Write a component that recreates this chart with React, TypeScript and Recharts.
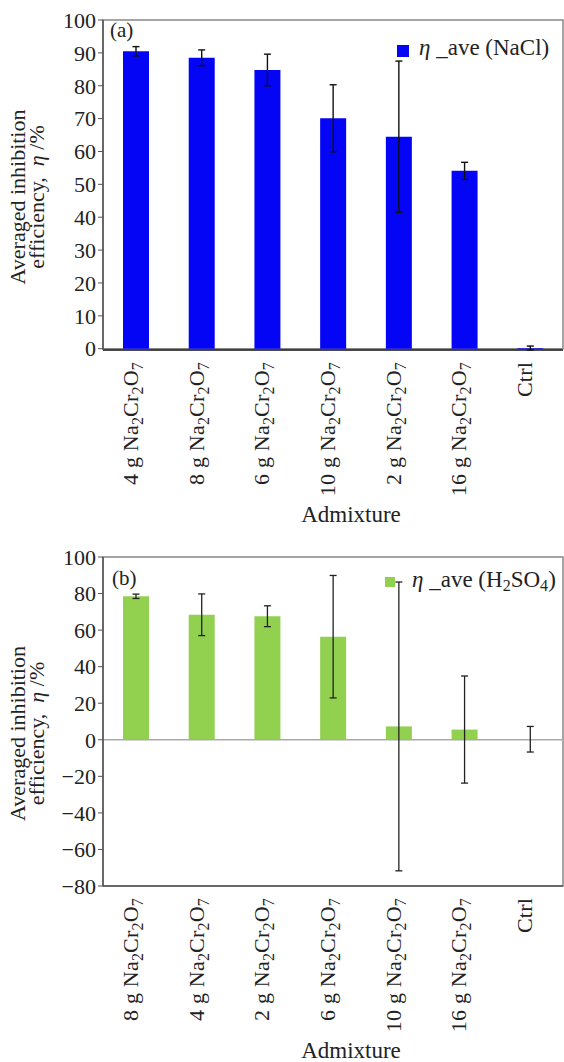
import React from 'react';
import { BarChart, Bar, XAxis, YAxis, ErrorBar, ReferenceLine, ReferenceArea, Legend } from 'recharts';

// (a) NaCl solution
const NACL_ADMIX = ['4 g Na2Cr2O7', '8 g Na2Cr2O7', '6 g Na2Cr2O7', '10 g Na2Cr2O7', '2 g Na2Cr2O7', '16 g Na2Cr2O7', 'Ctrl'];
const NACL_ETA = [90.5, 88.5, 84.8, 70.1, 64.5, 54.1, 0.2];
const NACL_ERR = [1.4, 2.4, 4.8, 10.2, 23, 2.6, 0.6];
const NACL_TICKS = [0, 10, 20, 30, 40, 50, 60, 70, 80, 90, 100];

// (b) H2SO4 solution
const H2SO4_ADMIX = ['8 g Na2Cr2O7', '4 g Na2Cr2O7', '2 g Na2Cr2O7', '6 g Na2Cr2O7', '10 g Na2Cr2O7', '16 g Na2Cr2O7', 'Ctrl'];
const H2SO4_ETA = [78.5, 68.4, 67.6, 56.4, 7.3, 5.6, 0.3];
const H2SO4_ERR = [1.2, 11.4, 5.7, 33.5, 79, 29.3, 7];
const H2SO4_TICKS = [-80, -60, -40, -20, 0, 20, 40, 60, 80, 100];

const FONT = 'Liberation Serif';
const W = 564;

const naclRows = NACL_ADMIX.map((admix, i) => ({ admix, eta: NACL_ETA[i], err: NACL_ERR[i] }));
const h2so4Rows = H2SO4_ADMIX.map((admix, i) => ({ admix, eta: H2SO4_ETA[i], err: H2SO4_ERR[i] }));

// digits right after a letter are subscripts (Na2Cr2O7, H2SO4)
const splitChem = (s: string) => {
  const out: { t: string; sub: boolean }[] = [];
  for (let i = 0; i < s.length; i++) {
    const sub = /\d/.test(s[i]) && i > 0 && /[A-Za-z]/.test(s[i - 1]);
    const last = out[out.length - 1];
    if (last && last.sub === sub) last.t += s[i];
    else out.push({ t: s[i], sub });
  }
  return out;
};

const svgChem = (s: string, fs: number, subFs: number, shift: number) => {
  let cur = 0;
  return splitChem(s).map((p, i) => {
    const target = p.sub ? shift : 0;
    const dy = target - cur;
    cur = target;
    return <tspan key={i} dy={dy} fontSize={p.sub ? subFs : fs}>{p.t}</tspan>;
  });
};

const htmlChem = (s: string) =>
  splitChem(s).map((p, i) => p.sub
    ? <sub key={i} style={{ fontSize: '0.7em', verticalAlign: '-0.25em' }}>{p.t}</sub>
    : <span key={i}>{p.t}</span>);

const fmt = (v: number) => (v < 0 ? `\u2212${Math.abs(v)}` : String(v));

const AdmixTick = (props: any) => {
  const { x, y, payload } = props;
  return (
    <text transform={`translate(${x + 2},${y + 10}) rotate(-90)`} textAnchor="end"
      fontFamily={FONT} fill="#222" letterSpacing={0.2}>
      {svgChem(payload.value, 22, 16, 5)}
    </text>
  );
};

const YTitle = (props: any) => {
  const vb = props.viewBox || { y: 20, height: 330 };
  const cy = vb.y + vb.height / 2 + 12;
  return (
    <g fontFamily={FONT} fontSize={22} fill="#222">
      <text transform={`translate(25,${cy}) rotate(-90)`} textAnchor="middle">Averaged inhibition</text>
      <text transform={`translate(44,${cy}) rotate(-90)`} textAnchor="middle" style={{ whiteSpace: 'pre' }}>
        {'efficiency,  '}<tspan fontStyle="italic">η</tspan>{' /%'}
      </text>
    </g>
  );
};

const XTitle = (props: any) => {
  const vb = props.viewBox || { x: 103, y: 350, width: 460 };
  return (
    <text x={vb.x + vb.width / 2 + 18} y={vb.y + 172} textAnchor="middle"
      fontFamily={FONT} fontSize={23} fill="#222">Admixture</text>
  );
};

const makeLegend = (tag: string, series: string, tagPos: number[], box: number[], textPos: number[]) =>
  (props: any) => {
    const color = props.payload && props.payload[0] ? props.payload[0].color : '#000';
    return (
      <div style={{ position: 'relative', fontFamily: FONT, color: '#222', lineHeight: 1 }}>
        <div style={{ position: 'absolute', left: tagPos[0], top: tagPos[1], fontSize: 21, whiteSpace: 'nowrap' }}>{tag}</div>
        <div style={{ position: 'absolute', left: box[0], top: box[1], width: box[2], height: box[2], background: color }} />
        <div style={{ position: 'absolute', left: textPos[0], top: textPos[1], fontSize: 23, whiteSpace: 'nowrap' }}>
          <i>η</i> _ave ({htmlChem(series)})
        </div>
      </div>
    );
  };

const yTick = { fontSize: 22, fill: '#222', fontFamily: FONT };

export default function App() {
  return (
    <div style={{ position: 'absolute', left: 0, top: 0, width: W, height: 1062, background: '#fff', overflow: 'hidden', fontFamily: FONT }}>
      <div style={{ position: 'absolute', left: 0, top: 0 }}>
        <BarChart width={W} height={540} data={naclRows} margin={{ top: 20, right: 1, bottom: 0, left: 0 }} barSize={26}>
          <ReferenceArea y1={0} y2={100} fill="none" stroke="#888" strokeWidth={1.5} />
          <XAxis dataKey="admix" height={190} tickLine={false} tickSize={0} interval={0}
            axisLine={{ stroke: '#111', strokeWidth: 1.5 }} tick={<AdmixTick />} label={{ content: XTitle }} />
          <YAxis width={103} domain={[0, 100]} ticks={NACL_TICKS} tickSize={5} tickMargin={2}
            axisLine={{ stroke: '#555', strokeWidth: 1.5 }} tickLine={{ stroke: '#555' }}
            tick={yTick} tickFormatter={fmt} label={{ content: YTitle }} />
          <Legend content={makeLegend('(a)', 'NaCl', [110, 20], [397, 45, 12], [419, 36])}
            wrapperStyle={{ position: 'absolute', left: 0, top: 0, width: 0, height: 0 }} />
          <Bar dataKey="eta" name="η _ave (NaCl)" fill="#0505f5" isAnimationActive={false}>
            <ErrorBar dataKey="err" width={3.5} stroke="#111" strokeWidth={1.4} direction="y" />
          </Bar>
        </BarChart>
      </div>
      <div style={{ position: 'absolute', left: 0, top: 540 }}>
        <BarChart width={W} height={522} data={h2so4Rows} margin={{ top: 17, right: 1, bottom: 0, left: 0 }} barSize={26}>
          <ReferenceArea y1={-80} y2={100} fill="none" stroke="#888" strokeWidth={1.5} />
          <ReferenceLine y={0} stroke="#aaa" strokeWidth={1.5} />
          <XAxis dataKey="admix" height={176} tickLine={false} tickSize={0} interval={0}
            axisLine={{ stroke: '#555', strokeWidth: 1.5 }} tick={<AdmixTick />} label={{ content: XTitle }} />
          <YAxis width={103} domain={[-80, 100]} ticks={H2SO4_TICKS} tickSize={5} tickMargin={2}
            axisLine={{ stroke: '#555', strokeWidth: 1.5 }} tickLine={{ stroke: '#555' }}
            tick={yTick} tickFormatter={fmt} label={{ content: YTitle }} />
          <Legend content={makeLegend('(b)', 'H2SO4', [112, 28], [385, 37, 10], [412, 28])}
            wrapperStyle={{ position: 'absolute', left: 0, top: 0, width: 0, height: 0 }} />
          <Bar dataKey="eta" name="η _ave (H2SO4)" fill="#92d050" isAnimationActive={false}>
            <ErrorBar dataKey="err" width={3.5} stroke="#222" strokeWidth={1.3} direction="y" />
          </Bar>
        </BarChart>
      </div>
    </div>
  );
}
